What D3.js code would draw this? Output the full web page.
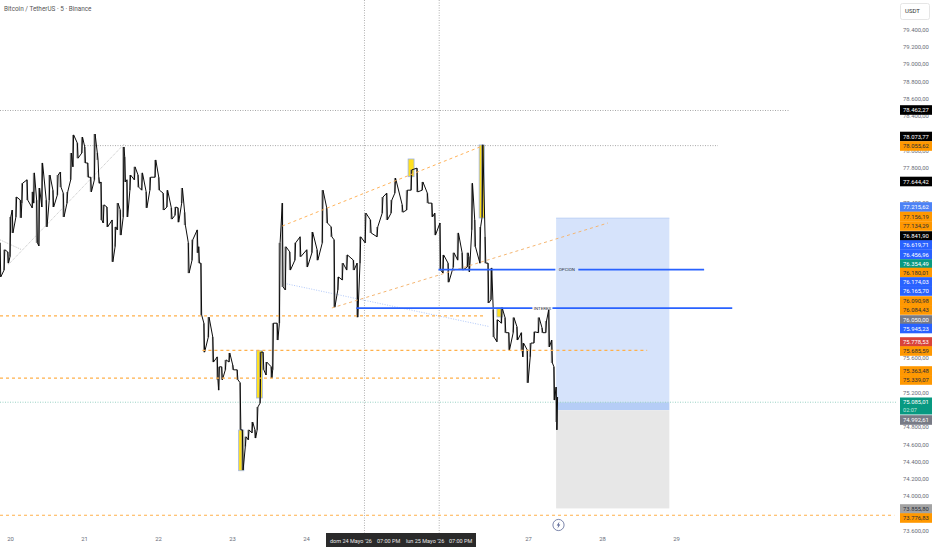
<!DOCTYPE html>
<html>
<head>
<meta charset="utf-8">
<script src="https://cdn.jsdelivr.net/npm/d3@7"></script>
<style>
  html, body { margin: 0; background: #fff; }
  svg { display: block; }
  text { font-family: Roboto, sans-serif; }
</style>
</head>
<body>
<svg id="chart" width="932" height="550"></svg>
<script>
const candleDay = [19.865,19.92,19.97,20,20.03,20.08,20.14,20.16,20.23,20.3,20.32,20.36,20.39,20.43,20.49,20.53,20.58,20.64,20.68,20.72,20.77,20.82,20.85,20.91,20.97,21.01,21.05,21.09,21.14,21.18,21.2,21.23,21.26,21.31,21.38,21.42,21.45,21.49,21.53,21.55,21.58,21.62,21.68,21.73,21.78,21.84,21.89,21.96,22.01,22.07,22.12,22.18,22.23,22.27,22.32,22.36,22.41,22.46,22.53,22.55,22.58,22.62,22.68,22.74,22.8,22.82,22.86,22.91,22.96,23.01,23.07,23.11,23.14,23.18,23.22,23.27,23.31,23.34,23.38,23.42,23.46,23.53,23.55,23.61,23.64,23.68,23.72,23.78,23.85,23.92,24.01,24.08,24.15,24.22,24.28,24.34,24.38,24.43,24.49,24.55,24.64,24.69,24.73,24.8,24.87,24.96,25.03,25.09,25.15,25.2,25.3,25.36,25.42,25.5,25.57,25.64,25.7,25.74,25.81,25.85,25.92,25.99,26.05,26.11,26.18,26.2,26.24,26.28,26.35,26.38,26.42,26.46,26.5,26.53,26.58,26.64,26.69,26.74,26.8,26.85,26.91,26.93,26.99,27.03,27.08,27.14,27.19,27.24,27.28,27.32,27.35,27.38,27.39];
const candleHigh = [76930,76850,76825,77230,77310,77460,77425,77620,77660,77520,77740,77425,77565,77855,77425,77715,77540,77715,77750,77505,77520,77970,78180,78085,78155,78040,77855,77690,78190,77970,77690,77635,77370,77345,77195,77115,77390,77310,78040,77925,77660,77715,77810,77715,77740,77520,77690,77890,77690,77505,77540,77335,77345,77335,77565,77285,76930,76965,77080,76885,76695,76000,76070,75840,75610,75495,75495,75575,75655,75515,75460,75310,74765,74685,74765,74855,74765,75030,75665,75665,75550,75495,76000,76000,76930,77390,76885,76825,76930,77000,76850,77055,76850,77540,77335,77115,76965,76535,76695,76790,76730,76695,77000,77275,77195,77115,77460,77505,77425,77680,77370,77540,77775,77795,77635,77505,77390,77275,77160,76790,76695,76815,77045,76815,76815,76770,77620,77195,77115,78065,77000,76695,76640,76155,76040,76180,76065,75890,76065,75960,75890,75770,75690,75770,75900,76065,75945,76025,76155,75805,75495,75260,75145];
const candleLow = [76535,76615,76695,76770,77045,77230,77220,77390,77425,77335,77390,76930,76895,77345,77115,77425,77345,77485,77575,77230,77390,77660,77810,77910,77970,77855,77690,77520,77660,77890,77620,77195,77160,77115,76710,76885,77080,77020,77230,77635,77230,77540,77660,77575,77540,77335,77540,77690,77540,77310,77345,77205,77250,77170,77390,77135,76580,76730,76815,76695,76095,75665,75840,75550,75345,75225,75345,75460,75550,75460,75345,74765,74300,74570,74650,74730,74670,74765,75075,75460,75400,75365,75460,75805,76000,76420,76385,76615,76730,76770,76650,76815,76730,76930,77160,77000,76185,76385,76500,76615,76615,76070,76695,76930,77045,77000,77275,77195,77275,77505,77285,77310,77540,77520,77540,77390,77230,77020,76615,76580,76475,76650,76730,76615,76650,76595,77080,76885,76695,77230,76695,76235,76270,75840,75785,76000,75890,75690,75890,75805,75690,75610,75310,75610,75770,75890,75890,75890,75725,75540,75110,74855,74765];

const dayTicks = [20, 21, 22, 23, 24, 27, 28, 29];
const priceTicks = d3.range(73600, 79401, 200);

// yellow marked candles: start day, end day, top price, bottom price
const markDayFrom = [23.09, 23.33, 25.38, 26.34, 26.58];
const markDayTo = [23.16, 23.41, 25.46, 26.41, 26.66];
const markTop = [74763, 75681, 77901, 78063, 76176];
const markBottom = [74292, 75134, 77696, 77218, 76072];

// orange dashed levels
const levelPrice = [76084.43, 75685.59, 75363.48, 73776.83];
const levelFrom = [19.865, 22.6, 19.865, 19.865];
const levelTo = [26.42, 28.61, 26.62, 31.95];

// long position tool
const posFromDay = 27.38, posToDay = 28.91;
const posTarget = 77215.62, posEntry = 74992.61, posStop = 73855.8, lastPrice = 75085.01;

const tagValues = [78462.27,78073.77,78055.62,77644.42,77215.62,77156.19,77134.29,76841.9,76619.71,76456.96,76354.49,76180.01,76174.03,76165.7,76090.98,76084.43,76050,75945.23,75778.53,75685.59,75363.48,75339.07,75085.01,74992.61,73855.8,73776.83];
const tagKinds = ["k","k","o","k","l","o","o","k","b","b","g","o","b","b","o","o","s","b","r","o","o","o","g","s","d","o"];
// where the scale stacks the tags once they collide
const tagCentres = [110,136.5,146,181.5,207,216.5,226,236,245,254.5,264,272.5,282,291,301,310,320,328.5,342,351,371,380,406,420,509,518];
const tagStyle = {
  k: ["#000000", "#ffffff"], o: ["#ff9800", "#2a2e39"], b: ["#2962ff", "#ffffff"],
  l: ["#4d82f5", "#ffffff"], g: ["#089981", "#ffffff"], r: ["#d9433a", "#ffffff"],
  s: ["#787b86", "#ffffff"], d: ["#a3a3a3", "#2a2e39"]
};

const fmt = d3.formatLocale({ decimal: ",", thousands: ".", grouping: [3], currency: ["", ""] }).format(",.2f");

const svg = d3.select("#chart");
const x = d3.scaleLinear().domain([20, 29]).range([10, 676]);
const y = d3.scaleLinear().domain([79400, 73600]).range([29.5, 530.5]);
const plotRight = 896;
const axisFont = 5.9;

const hLine = (price, from, to, color, dash, width) => svg.append("line")
  .attr("x1", from).attr("x2", to).attr("y1", y(price)).attr("y2", y(price))
  .attr("stroke", color).attr("stroke-width", width || 1).attr("stroke-dasharray", dash);

// position boxes
svg.append("rect").attr("x", x(posFromDay)).attr("width", x(posToDay) - x(posFromDay))
  .attr("y", y(posTarget)).attr("height", y(lastPrice) - y(posTarget)).attr("fill", "#d6e3fb");
svg.append("rect").attr("x", x(posFromDay)).attr("width", x(posToDay) - x(posFromDay))
  .attr("y", y(lastPrice)).attr("height", y(posEntry) - y(lastPrice)).attr("fill", "#b5cdf6");
svg.append("rect").attr("x", x(posFromDay)).attr("width", x(posToDay) - x(posFromDay))
  .attr("y", y(posEntry)).attr("height", y(posStop) - y(posEntry)).attr("fill", "#e7e7e7");
hLine(posTarget, x(posFromDay), x(posToDay), "#bcd0f5");

// dotted guides
hLine(78462.27, 0, 789, "#a8a8a8", "1 1.5");
hLine(78055.62, 85, 718, "#a8a8a8", "1 1.5");
hLine(lastPrice, 0, plotRight, "#9bd2c5", "1 1.5");
[24.79, 25.8].forEach(d => svg.append("line")
  .attr("x1", x(d)).attr("x2", x(d)).attr("y1", 0).attr("y2", 533)
  .attr("stroke", "#b0b0b0").attr("stroke-dasharray", "1 1.5"));

// faint trend guides
const guide = (d0, p0, d1, p1, color, dash) => svg.append("line")
  .attr("x1", x(d0)).attr("y1", y(p0)).attr("x2", x(d1)).attr("y2", y(p1))
  .attr("stroke", color).attr("stroke-dasharray", dash);
guide(19.865, 76965, 20.16, 76850, "#c4c4c4", "1 1");
guide(19.98, 76680, 21.55, 78080, "#c4c4c4", "1 1");
guide(23.74, 76455, 26.48, 75960, "#b0c8fa", "1 1.5");

// marked candles
markDayFrom.forEach((d, i) => svg.append("rect")
  .attr("x", x(d)).attr("width", x(markDayTo[i]) - x(d))
  .attr("y", y(markTop[i])).attr("height", y(markBottom[i]) - y(markTop[i]))
  .attr("fill", "#ffe01f").attr("stroke", "#9db2e6").attr("stroke-width", 0.8));

// price: wick columns in grey, then a black path walking each column from its nearest end
svg.append("g").selectAll("line").data(candleDay).join("line")
  .attr("x1", d => x(d)).attr("x2", d => x(d))
  .attr("y1", (d, i) => y(candleHigh[i])).attr("y2", (d, i) => y(candleLow[i]))
  .attr("stroke", "#8c8c8c").attr("stroke-width", 1.7);
const walk = [];
let last = candleHigh[0];
candleDay.forEach((d, i) => {
  const highFirst = Math.abs(candleHigh[i] - last) < Math.abs(candleLow[i] - last);
  const a = highFirst ? candleHigh[i] : candleLow[i];
  const b = highFirst ? candleLow[i] : candleHigh[i];
  walk.push([d, a], [d + 0.01, b]);
  last = b;
});
svg.append("path").attr("d", d3.line().x(d => x(d[0])).y(d => y(d[1]))(walk))
  .attr("fill", "none").attr("stroke", "#0c0c0c").attr("stroke-width", 1);

// orange levels and diagonals
levelPrice.forEach((p, i) => hLine(p, x(levelFrom[i]), x(levelTo[i]), "#ffb04a", "3 3", 1.1));
guide(23.68, 77125, 26.35, 78040, "#ffb45c", "3 3");
guide(24.35, 76176, 28.08, 77160, "#f5b672", "3 3");

// blue levels with their labels
const blueLevel = (price, d0, d1, gap0, gap1, label) => {
  hLine(price, x(d0), x(gap0), "#2962ff", null, 1.6);
  hLine(price, x(gap1), x(d1), "#2962ff", null, 1.6);
  svg.append("text").attr("x", (x(gap0) + x(gap1)) / 2).attr("y", y(price) + 1.6)
    .attr("text-anchor", "middle").attr("font-size", 4.4).attr("fill", "#2a2e39").text(label);
};
blueLevel(76619.71, 25.79, 29.38, 27.37, 27.68, "OPCION");
blueLevel(76174.03, 24.68, 29.76, 27.06, 27.33, "INTERES");

// right price scale: ticks fully under a tag are dropped, ones that only peek out stay
const tagHalf = v => (v === lastPrice ? 8.5 : 4.8);
const openTicks = priceTicks.filter(p => !tagCentres.some((c, i) =>
  Math.abs(y(p) - c) < tagHalf(tagValues[i]) - 1));
const yAxis = d3.axisRight(y).tickValues(openTicks).tickSize(0).tickPadding(0).tickFormat(fmt);
const yG = svg.append("g").attr("transform", "translate(903,0)").call(yAxis);
yG.select(".domain").remove();
yG.selectAll("text").attr("font-size", axisFont).attr("font-family", "Roboto, sans-serif").attr("fill", "#6a6d78");

tagValues.forEach((v, i) => {
  const s = tagStyle[tagKinds[i]];
  const tall = v === lastPrice;
  const h = tall ? 17 : 9.6;
  const c = tagCentres[i];
  svg.append("rect").attr("x", 900).attr("y", c - h / 2).attr("width", 32).attr("height", h).attr("fill", s[0]);
  svg.append("text").attr("x", 903).attr("y", (tall ? c - 4 : c) + 2.2)
    .attr("font-size", axisFont).attr("fill", s[1]).text(fmt(v));
  if (tall) svg.append("text").attr("x", 903).attr("y", c + 6)
    .attr("font-size", 5.6).attr("fill", "#bfe6dd").text("02:07");
});

// USDT button
svg.append("rect").attr("x", 900.5).attr("y", 3.5).attr("width", 29).attr("height", 16).attr("rx", 2)
  .attr("fill", "#fff").attr("stroke", "#e6e6e6");
svg.append("text").attr("x", 905).attr("y", 13).attr("font-size", 6).attr("fill", "#333").text("USDT");

// time axis
const xAxis = d3.axisBottom(x).tickValues(dayTicks).tickSize(0).tickPadding(0).tickFormat(d3.format("d"));
const xG = svg.append("g").attr("transform", "translate(0,537)").call(xAxis);
xG.select(".domain").remove();
xG.selectAll("text").attr("font-size", axisFont).attr("font-family", "Roboto, sans-serif").attr("fill", "#6a6d78");

// crosshair date labels
svg.append("rect").attr("x", 326).attr("y", 533).attr("width", 150).attr("height", 14).attr("fill", "#2a2a2a");
[[330, "dom 24 Mayo '26"], [377, "07:00 PM"], [406, "lun 25 Mayo '26"], [449, "07:00 PM"]].forEach(t =>
  svg.append("text").attr("x", t[0]).attr("y", 542.5).attr("font-size", 5.5).attr("fill", "#e8e8e8").text(t[1]));

// title
svg.append("text").attr("x", 4).attr("y", 11).attr("font-size", 6.4).attr("fill", "#555").text("Bitcoin / TetherUS · 5 · Binance");

// lightning badge
const badge = svg.append("g").attr("transform", "translate(558.5,525)");
badge.append("circle").attr("r", 5.6).attr("fill", "#fff").attr("stroke", "#5a6796").attr("stroke-width", 0.8);
badge.append("path").attr("d", "M1,-3.4 L-1.8,0.6 L-0.2,0.6 L-1,3.4 L1.8,-0.6 L0.2,-0.6 Z").attr("fill", "#5a6796");
</script>
</body>
</html>
